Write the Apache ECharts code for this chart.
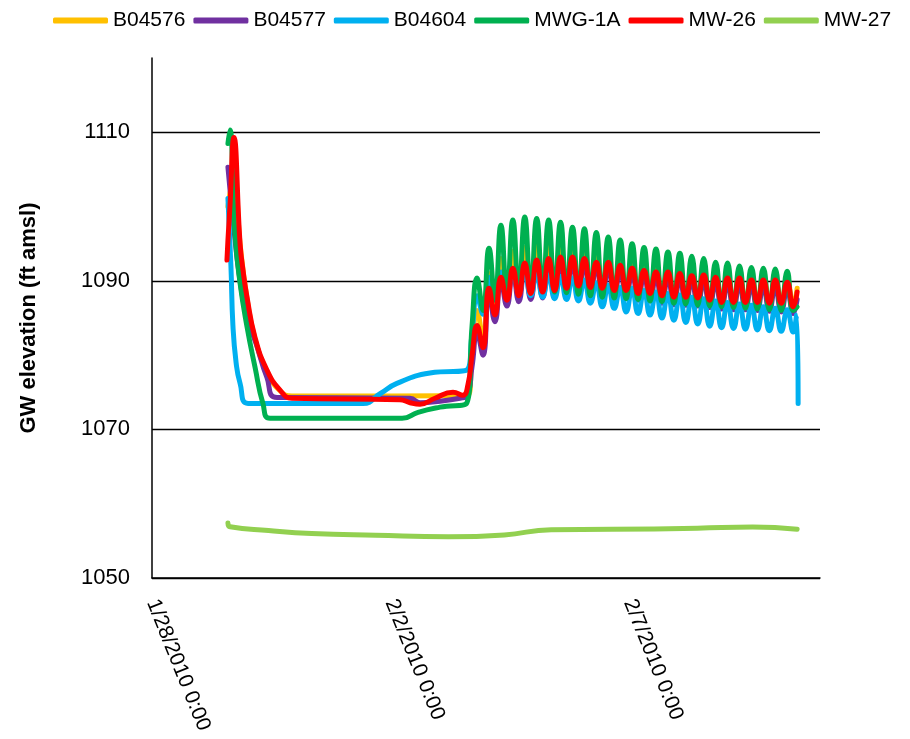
<!DOCTYPE html>
<html>
<head>
<meta charset="utf-8">
<script src="https://cdn.jsdelivr.net/npm/echarts@6/dist/echarts.min.js"></script>
<style>
  html, body { margin: 0; background: #fff; }
  #chart { width: 910px; height: 739px; }
</style>
</head>
<body>
<div id="chart"></div>
<script>
// x values are hours after 1/28/2010 0:00
const baseTime = Date.UTC(2010, 0, 28);
const names = ['B04576', 'B04577', 'B04604', 'MWG-1A', 'MW-26', 'MW-27'];
const colors = ['#FFC000', '#7030A0', '#00B0F0', '#00B050', '#FF0000', '#92D050'];
const yTicks = [1050, 1070, 1090, 1110];

// peak / trough times of the pumping cycles
const cycleHours = [163.5, 166.5, 169.5, 172.5, 175.5, 178.5, 181.5, 184.5, 187.5, 190.5,
  193.5, 196.5, 199.5, 202.5, 205.5, 208.5, 211.5, 214.5, 217.5, 220.5, 223.5, 226.5,
  229.5, 232.5, 235.5, 238.5, 241.5, 244.5, 247.5, 250.5, 253.5, 256.5, 259.5, 262.5,
  265.5, 268.5, 271.5, 274.5, 277.5, 280.5, 283.5, 286.5, 289.5, 292.5, 295.5, 298.5,
  301.5, 304.5, 307.5, 310.5, 313.5, 316.5, 319.5, 322.5];

const b04576Early = [[38.2, 1100], [41.2, 1104], [44.3, 1095], [47.8, 1087.6], [51.8, 1082.2],
  [57.8, 1077.8], [64.4, 1075.2], [70.4, 1074.5], [158.9, 1074.6], [161.0, 1081.0]];
const b04576Cycle = [1086.0, 1082.0, 1091.0, 1086.0, 1093.0, 1087.8, 1094.0, 1088.3, 1094.5, 1088.6,
  1094.7, 1088.8, 1094.8, 1089.0, 1094.6, 1089.1, 1094.2, 1089.2, 1093.8, 1089.1, 1093.4, 1089.0,
  1093.1, 1088.8, 1092.7, 1088.7, 1092.3, 1088.5, 1092.0, 1088.4, 1091.8, 1088.2, 1091.6, 1088.0,
  1091.4, 1087.9, 1091.2, 1087.8, 1091.1, 1087.6, 1090.9, 1087.4, 1090.8, 1087.3, 1090.7, 1087.3,
  1090.6, 1087.2, 1090.5, 1087.2, 1090.4, 1087.1, 1090.2, 1086.8];
const b04576Tail = [[324.5, 1089.0]];

const b04577Early = [[38.2, 1105.3], [41.2, 1097], [44.3, 1090], [47.8, 1085], [52.3, 1081.6],
  [57.8, 1077], [62.9, 1074.3], [129.8, 1074.2], [134.8, 1073.6], [144.9, 1073.8],
  [154.9, 1074.2], [158.4, 1074.5], [161.0, 1078.5]];
const b04577Cycle = [1083.0, 1080.0, 1088.5, 1084.5, 1090.0, 1086.6, 1091.2, 1087.2, 1091.8, 1087.5,
  1092.2, 1087.7, 1092.4, 1087.9, 1092.5, 1088.1, 1092.5, 1088.3, 1092.3, 1088.2, 1092.0, 1088.0,
  1091.8, 1087.8, 1091.5, 1087.7, 1091.1, 1087.4, 1090.8, 1087.3, 1090.6, 1087.0, 1090.5, 1086.8,
  1090.4, 1086.7, 1090.1, 1086.6, 1090.0, 1086.4, 1089.8, 1086.2, 1089.7, 1086.1, 1089.6, 1086.1,
  1089.4, 1086.0, 1089.3, 1085.9, 1089.2, 1085.8, 1089.0, 1085.6];
const b04577Tail = [[324.5, 1087.5]];

const b04604Early = [[38.2, 1101.1], [39.7, 1092.0], [40.7, 1084.0], [42.3, 1079.0], [44.3, 1076.2],
  [48.3, 1073.5], [106.1, 1073.5], [114.7, 1074.8], [123.2, 1076.2], [139.8, 1077.6],
  [158.4, 1078.0], [161.0, 1083.0]];
const b04604Cycle = [1088.0, 1085.5, 1090.5, 1087.5, 1091.2, 1088.3, 1091.4, 1088.3, 1091.2, 1088.0,
  1091.0, 1087.8, 1090.8, 1087.6, 1090.6, 1087.5, 1090.4, 1087.3, 1090.1, 1087.0, 1089.7, 1086.5,
  1089.4, 1086.3, 1089.1, 1085.8, 1089.0, 1085.6, 1088.7, 1085.4, 1088.5, 1085.0, 1088.3, 1084.7,
  1088.1, 1084.4, 1087.8, 1084.2, 1087.6, 1083.9, 1087.3, 1083.7, 1087.1, 1083.6, 1086.9, 1083.5,
  1086.7, 1083.4, 1086.5, 1083.3, 1086.3, 1083.2, 1086.1, 1083.1];
const b04604Tail = [[324.2, 1085.4], [325.0, 1073.5]];

const mwg1aEarly = [[38.2, 1108.5], [39.2, 1110.3], [41.7, 1096.4], [44.3, 1089.7], [47.8, 1083.8],
  [51.8, 1078.4], [55.8, 1073.5], [59.4, 1071.5], [125.8, 1071.5], [133.8, 1072.3],
  [144.9, 1073.0], [158.4, 1073.6], [161.0, 1084.0]];
const mwg1aCycle = [1090.4, 1086.0, 1094.4, 1087.4, 1097.5, 1088.0, 1098.2, 1088.4, 1098.6, 1088.6,
  1098.4, 1088.6, 1098.2, 1088.5, 1097.9, 1088.4, 1097.2, 1088.2, 1097.0, 1088.0, 1096.5, 1087.8,
  1095.9, 1087.7, 1095.5, 1087.6, 1095.0, 1087.5, 1094.5, 1087.3, 1094.3, 1087.2, 1093.9, 1087.0,
  1093.7, 1086.9, 1093.3, 1086.7, 1093.0, 1086.6, 1092.5, 1086.5, 1092.4, 1086.4, 1092.0, 1086.3,
  1091.8, 1086.2, 1091.7, 1086.1, 1091.6, 1086.0, 1091.3, 1086.0];
const mwg1aTail = [[324.5, 1086.5]];

const mw26Early = [[37.7, 1092.8], [38.2, 1095.5], [39.2, 1100.0], [41.2, 1109.3], [44.3, 1095.0],
  [45.8, 1091.4], [47.8, 1087.8], [51.8, 1082.4], [57.8, 1078.0], [64.4, 1075.3], [70.4, 1074.2],
  [124.7, 1074.0], [129.8, 1073.6], [134.8, 1073.4], [142.3, 1074.2], [151.4, 1075.0],
  [156.4, 1074.6], [158.9, 1076.0], [161.0, 1080.0]];
const mw26Cycle = [1084.0, 1081.0, 1089.0, 1085.4, 1090.5, 1087.4, 1091.7, 1088.0, 1092.4, 1088.3,
  1092.8, 1088.5, 1093.0, 1088.7, 1093.2, 1089.0, 1093.2, 1089.3, 1093.0, 1089.1, 1092.5, 1089.0,
  1092.5, 1088.7, 1092.1, 1088.7, 1091.7, 1088.3, 1091.4, 1088.3, 1091.2, 1088.0, 1091.2, 1087.8,
  1091.0, 1087.8, 1090.7, 1087.7, 1090.8, 1087.4, 1090.5, 1087.1, 1090.4, 1087.1, 1090.4, 1087.1,
  1090.1, 1087.1, 1090.1, 1087.0, 1090.1, 1087.0, 1089.8, 1086.5];
const mw26Tail = [[324.5, 1088.5]];

const mw27Data = [[38.2, 1057.4], [39.3, 1056.9], [58.6, 1056.4], [80.3, 1056.0], [112.5, 1055.75],
  [149.1, 1055.55], [177.2, 1055.8], [200.8, 1056.5], [231.2, 1056.55], [274.3, 1056.7],
  [302.1, 1056.85], [324.5, 1056.55]];

function build(early, cycle, tail) {
  const pts = early.concat(cycleHours.map((h, i) => [h, cycle[i]]), tail);
  return pts.map(p => [p[0] / 24, p[1]]);
}

const seriesData = [
  build(b04576Early, b04576Cycle, b04576Tail),
  build(b04577Early, b04577Cycle, b04577Tail),
  build(b04604Early, b04604Cycle, b04604Tail),
  build(mwg1aEarly, mwg1aCycle, mwg1aTail),
  build(mw26Early, mw26Cycle, mw26Tail),
  mw27Data.map(p => [p[0] / 24, p[1]])
];

function dateLabel(v) {
  if (Math.abs(v % 5) > 1e-6) return '';
  const d = new Date(baseTime + v * 86400000);
  return (d.getUTCMonth() + 1) + '/' + d.getUTCDate() + '/' + d.getUTCFullYear() + ' 0:00';
}

const font = 'Liberation Sans, Arial, sans-serif';
const chart = echarts.init(document.getElementById('chart'));
chart.setOption({
  backgroundColor: '#fff',
  animation: false,
  textStyle: { fontFamily: font, color: '#000' },
  legend: {
    left: 48,
    top: 5,
    icon: 'roundRect',
    itemWidth: 55,
    itemHeight: 6,
    itemGap: 8,
    textStyle: { fontSize: 21, color: '#000', fontFamily: font },
    data: names
  },
  grid: { left: 152, right: 90, top: 58, bottom: 161, outerBoundsMode: 'none', containLabel: false },
  xAxis: {
    type: 'value',
    min: 0,
    max: 14,
    interval: 5,
    axisLine: { lineStyle: { color: '#000', width: 1.5 } },
    axisTick: { show: false },
    splitLine: { show: false },
    axisLabel: {
      rotate: -68,
      margin: 22,
      fontSize: 21,
      color: '#000',
      fontFamily: font,
      showMaxLabel: false,
      formatter: dateLabel
    }
  },
  yAxis: {
    type: 'value',
    min: yTicks[0],
    max: 1120,
    interval: 20,
    name: 'GW elevation (ft amsl)',
    nameLocation: 'middle',
    nameRotate: 90,
    nameGap: 112,
    nameTextStyle: { fontSize: 22, fontWeight: 'bold', color: '#000', fontFamily: font },
    axisLine: { show: true, lineStyle: { color: '#000', width: 1.5 } },
    axisTick: { show: false },
    axisLabel: {
      margin: 22, fontSize: 22, color: '#000', fontFamily: font, showMaxLabel: false,
      formatter: v => String(v)
    },
    splitLine: { show: true, showMaxLine: false, lineStyle: { color: '#000', width: 1.3 } }
  },
  series: names.map((n, i) => ({
    name: n,
    type: 'line',
    data: seriesData[i],
    symbol: 'none',
    smooth: 0.5,
    color: colors[i],
    lineStyle: { width: 5, color: colors[i], cap: 'round', join: 'round' }
  }))
});
</script>
</body>
</html>
